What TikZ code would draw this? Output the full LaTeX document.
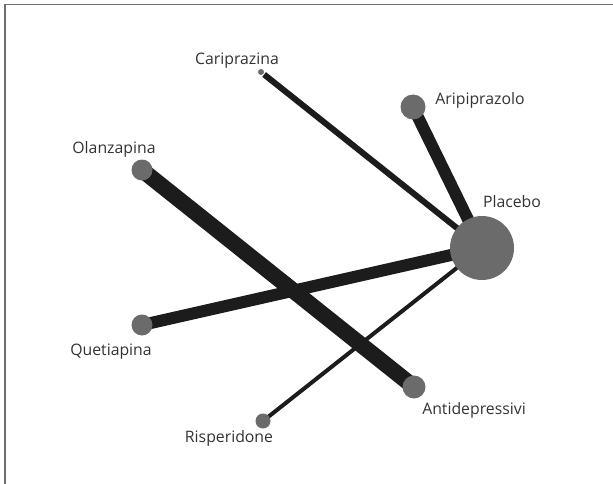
\documentclass[tikz,border=0pt]{standalone}
\usepackage{fontspec}
\setmainfont{Open Sans}
\definecolor{nodegray}{HTML}{6B6B6B}
\definecolor{edgeblack}{HTML}{1C1C1C}
\definecolor{labelgray}{HTML}{333333}
\definecolor{framegray}{HTML}{6E6E6E}
\begin{document}
\begin{tikzpicture}[x=1pt,y=-1pt,
  treat/.style={circle,fill=nodegray,inner sep=0pt,minimum size=#1},
  edge/.style={draw=edgeblack,line width=#1,line cap=butt},
  lbl/.style={text=labelgray,font=\fontsize{15.8}{18}\selectfont,inner sep=0pt}]
  \useasboundingbox (0,0) rectangle (613,484);
  % frame (top and left sides)
  \draw[framegray,line width=1.5pt] (5,484) -- (5,4.5) -- (613,4.5);

  % treatment positions
  \coordinate (pla) at (482,248);
  \coordinate (ari) at (413,107);
  \coordinate (car) at (261,72);
  \coordinate (ola) at (142,170);
  \coordinate (que) at (142,325);
  \coordinate (ant) at (414,387);
  \coordinate (ris) at (263,421);

  % comparisons, width proportional to number of trials
  \draw[edge=6pt,shorten <=4pt] (car) -- (pla);
  \draw[edge=12pt] (ari) -- (pla);
  \draw[edge=4pt] (ris) -- (pla);
  \draw[edge=16pt] (ola) -- (ant);
  \draw[edge=12pt] (que) -- (pla);

  % treatments
  \node[treat=64pt] (nPla) at (pla) {};
  \node[treat=25pt] (nAri) at (ari) {};
  \node[treat=6pt]  (nCar) at (car) {};
  \node[treat=21pt] (nOla) at (ola) {};
  \node[treat=21pt] (nQue) at (que) {};
  \node[treat=23pt] (nAnt) at (ant) {};
  \node[treat=15pt] (nRis) at (ris) {};

  % labels
  \node[lbl] (tPla) at (512,202) {Placebo};
  \node[lbl] (tAri) at (480,100) {Aripiprazolo};
  \node[lbl] (tCar) at (237,61) {Cariprazina};
  \node[lbl] (tOla) at (114,149) {Olanzapina};
  \node[lbl] (tQue) at (111,352) {Quetiapina};
  \node[lbl] (tAnt) at (474,410) {Antidepressivi};
  \node[lbl] (tRis) at (229,438) {Risperidone};
\end{tikzpicture}
\end{document}
